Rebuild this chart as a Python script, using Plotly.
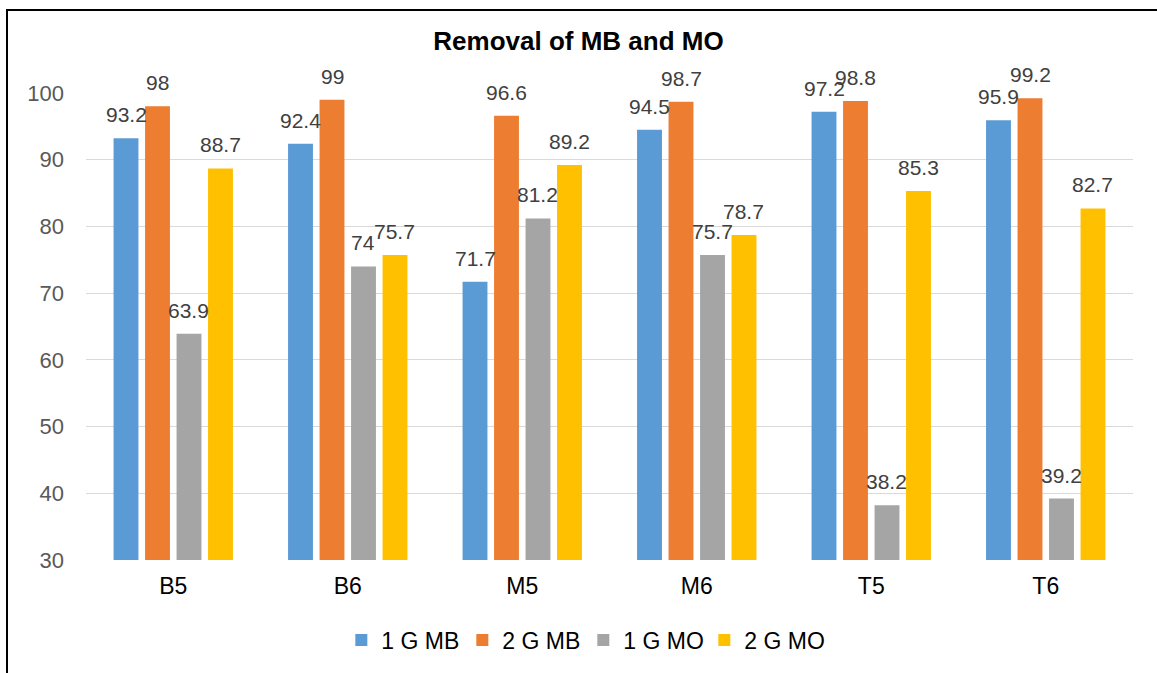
import plotly.graph_objects as go

# Sample groups and removal percentages for each treatment
categories = ["B5", "B6", "M5", "M6", "T5", "T6"]
mb_1g = [93.2, 92.4, 71.7, 94.5, 97.2, 95.9]
mb_2g = [98, 99, 96.6, 98.7, 98.8, 99.2]
mo_1g = [63.9, 74, 81.2, 75.7, 38.2, 39.2]
mo_2g = [88.7, 75.7, 89.2, 78.7, 85.3, 82.7]

series = [
    ("1 G MB", mb_1g, "#5B9BD5"),
    ("2 G MB", mb_2g, "#ED7D31"),
    ("1 G MO", mo_1g, "#A5A5A5"),
    ("2 G MO", mo_2g, "#FFC000"),
]

FONT = "Liberation Sans, Arial, sans-serif"

W, H = 1157, 673
L, R, T, B = 86, 24, 93, 113
pw = W - L - R
ph = H - T - B

BARGAP = 0.278
BARGROUPGAP = 0.21

fig = go.Figure()
for name, vals, color in series:
    fig.add_trace(go.Bar(
        name=name,
        x=categories,
        y=vals,
        marker=dict(color=color, line=dict(width=0)),
        cliponaxis=False,
    ))

# Value labels above each bar, shifted to the bar's slot within its group
slot_px = (1 - BARGAP) * (pw / len(categories)) / len(series)
annotations = []
for j, (name, vals, color) in enumerate(series):
    dx = (j - (len(series) - 1) / 2) * slot_px
    for cat, v in zip(categories, vals):
        annotations.append(dict(
            x=cat, y=v, xref="x", yref="y",
            text=f"{v:g}",
            showarrow=False,
            xanchor="center", yanchor="bottom",
            xshift=dx, yshift=10,
            font=dict(family=FONT, size=21, color="#404040"),
        ))

fig.update_layout(
    width=W,
    height=H,
    margin=dict(l=L, r=R, t=T, b=B),
    paper_bgcolor="white",
    plot_bgcolor="white",
    barmode="group",
    bargap=BARGAP,
    bargroupgap=BARGROUPGAP,
    font=dict(family=FONT, size=22, color="#000000"),
    title=dict(
        text="<b>Removal of MB and MO</b>",
        font=dict(family=FONT, size=26, color="#000000"),
        x=0.5,
        xref="container",
        xanchor="center",
        y=1 - 41 / H,
        yref="container",
        yanchor="middle",
    ),
    xaxis=dict(
        showgrid=False,
        showline=False,
        ticks="",
        tickfont=dict(family=FONT, size=23, color="#000000"),
        ticklabelstandoff=10,
    ),
    yaxis=dict(
        range=[30, 100],
        tick0=30,
        dtick=10,
        showgrid=True,
        gridcolor="#D9D9D9",
        gridwidth=1.3,
        zeroline=False,
        showline=False,
        ticks="",
        tickfont=dict(family=FONT, size=22, color="#595959"),
        ticklabelstandoff=21,
    ),
    legend=dict(
        orientation="h",
        x=0.475,
        xanchor="center",
        y=(560 - 640) / ph,
        yanchor="middle",
        font=dict(family=FONT, size=23, color="#000000"),
        itemwidth=30,
        entrywidth=76,
        entrywidthmode="pixels",
        traceorder="normal",
    ),
    showlegend=True,
    annotations=annotations,
)

# Outer chart border; its right and bottom edges run past the page
fig.add_shape(
    type="rect",
    xref="paper",
    yref="paper",
    x0=(7 - L) / pw,
    x1=(W + 10 - L) / pw,
    y0=-(B + 10) / ph,
    y1=(H - B - 10) / ph,
    line=dict(color="#000000", width=2),
    fillcolor="rgba(0,0,0,0)",
    layer="above",
)

fig.write_html("out.html")
